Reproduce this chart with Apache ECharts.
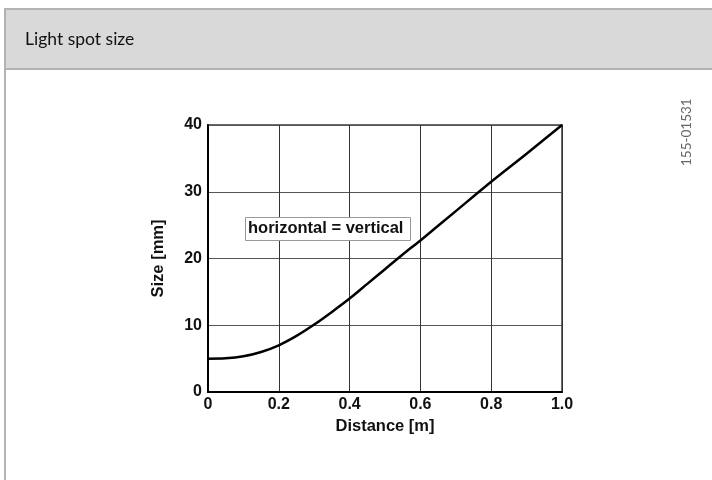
<!DOCTYPE html>
<html>
<head>
<meta charset="utf-8">
<script src="https://cdn.jsdelivr.net/npm/echarts@6/dist/echarts.min.js"></script>
<style>
html,body{margin:0;padding:0;background:#fff;}
#c{width:712px;height:480px;}
</style>
</head>
<body>
<div id="c"></div>
<script>
const distance = [0, 0.05, 0.1, 0.15, 0.2, 0.25, 0.3, 0.35, 0.4, 0.45, 0.5, 0.55, 0.6, 0.7, 0.8, 0.9, 1.0];
const sizeMm = [5.0, 5.05, 5.35, 6.0, 7.0, 8.4, 10.1, 12.0, 14.0, 16.2, 18.4, 20.6, 22.7, 27.1, 31.5, 35.7, 40.0];
const xTicks = ['0', '0.2', '0.4', '0.6', '0.8', '1.0'];
const title = 'Light spot size';
const note = 'horizontal = vertical';
const figId = '155-01531';

const chart = echarts.init(document.getElementById('c'), null, {renderer: 'canvas'});
const tickFont = {fontFamily: 'Liberation Sans, Arial, sans-serif', fontWeight: 'bold', fontSize: 16, color: '#111'};
const nameFont = {fontFamily: 'Liberation Sans, Arial, sans-serif', fontWeight: 'bold', fontSize: 16.5, color: '#111'};

chart.setOption({
  backgroundColor: '#fff',
  animation: false,
  grid: {left: 208, right: 150, top: 125, bottom: 88, show: true, borderColor: '#6a6a6a', borderWidth: 2, backgroundColor: 'transparent'},
  xAxis: {
    type: 'value', min: 0, max: 1, interval: 0.2,
    name: 'Distance [m]', nameLocation: 'middle', nameGap: 23,
    nameTextStyle: nameFont,
    axisLine: {show: true, onZero: false, lineStyle: {color: '#000', width: 2}},
    axisTick: {show: false},
    splitLine: {show: true, lineStyle: {color: '#333', width: 1}},
    axisLabel: Object.assign({margin: 5, formatter: (v) => xTicks[Math.round(v / 0.2)]}, tickFont)
  },
  yAxis: {
    type: 'value', min: 0, max: 40, interval: 10,
    name: 'Size [mm]', nameLocation: 'middle', nameGap: 41,
    nameTextStyle: nameFont,
    axisLine: {show: true, onZero: false, lineStyle: {color: '#000', width: 2}},
    axisTick: {show: false},
    splitLine: {show: true, lineStyle: {color: '#555', width: 1}},
    axisLabel: Object.assign({margin: 6}, tickFont)
  },
  series: [{
    type: 'line',
    data: distance.map((d, i) => [d, sizeMm[i]]),
    smooth: 0.3,
    showSymbol: false,
    lineStyle: {color: '#000', width: 2.5},
    z: 5
  }],
  graphic: [
    {type: 'rect', shape: {x: 5, y: 9, width: 720, height: 60}, style: {fill: '#d9d9d9', stroke: '#b3b3b3', lineWidth: 2}, z: 0},
    {type: 'line', shape: {x1: 5, y1: 69, x2: 5, y2: 490}, style: {stroke: '#b3b3b3', lineWidth: 2}, z: 0},
    {type: 'text', left: 25, top: 30, style: {text: title, font: '17.5px Lato, "Open Sans", sans-serif', fill: '#111'}, z: 10},
    {type: 'rect', shape: {x: 245.5, y: 217.5, width: 165, height: 23}, style: {fill: '#fff', stroke: '#999', lineWidth: 1}, z: 20},
    {type: 'text', left: 248, top: 220, style: {text: note, font: 'bold 16.5px "Liberation Sans", Arial, sans-serif', fill: '#111'}, z: 21},
    {type: 'text', x: 680, y: 166, rotation: Math.PI / 2, style: {text: figId, font: '13.5px Lato, "Open Sans", sans-serif', fill: '#666'}, z: 10}
  ]
});
</script>
</body>
</html>
